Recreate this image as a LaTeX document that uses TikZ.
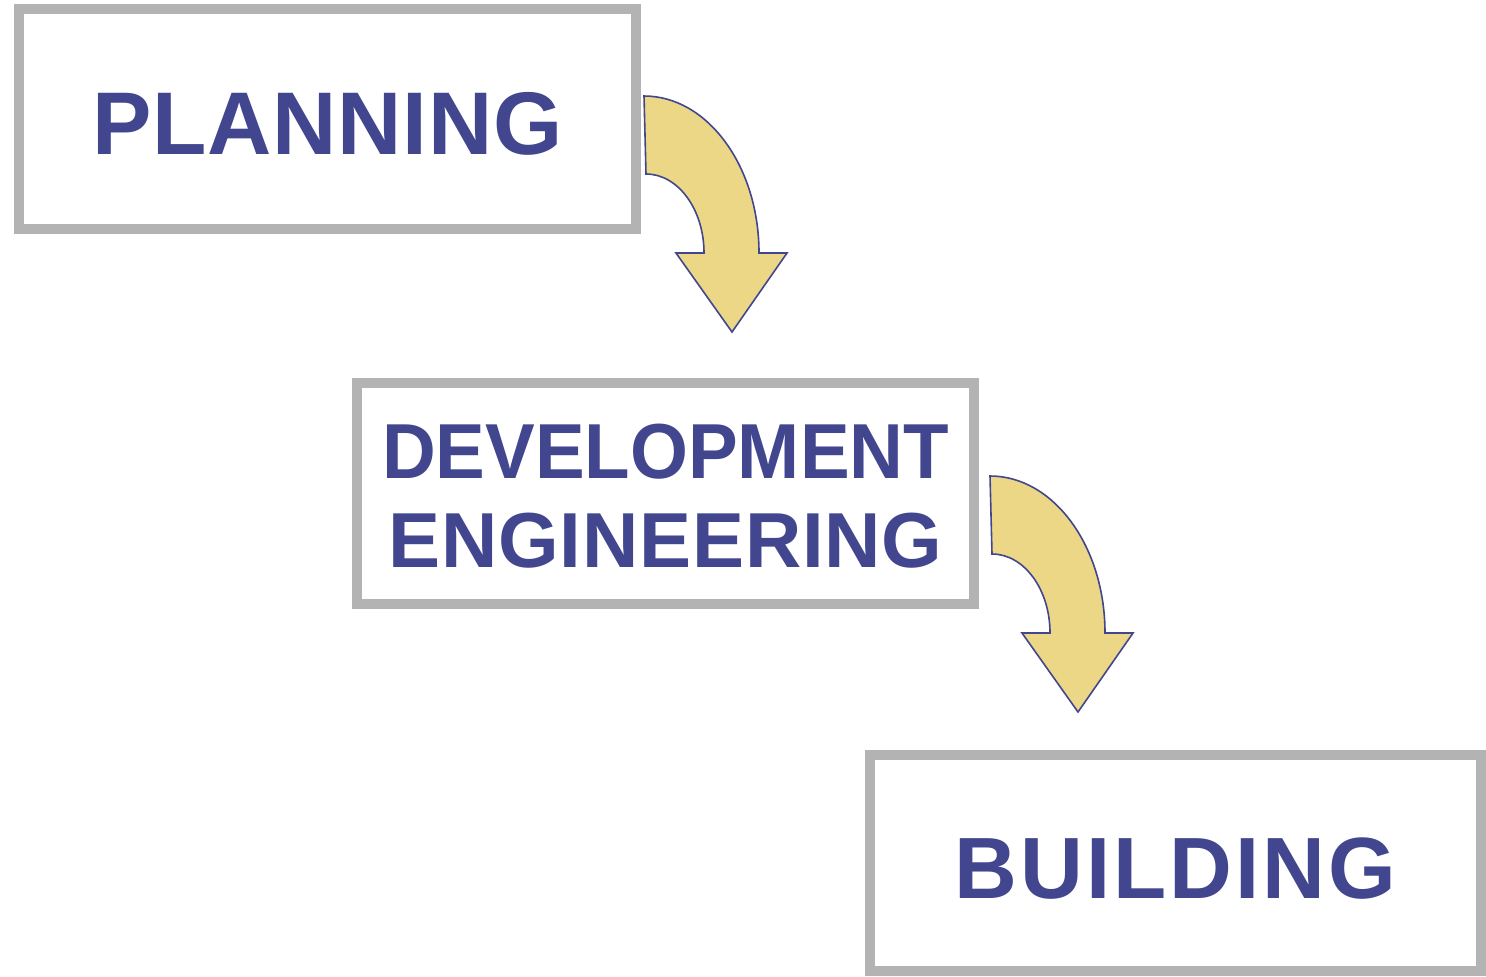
\documentclass[tikz,border=0pt]{standalone}
\usepackage{fontspec}
\setmainfont{Liberation Sans}
\definecolor{txtblue}{RGB}{65,70,142}
\definecolor{boxgray}{RGB}{179,179,179}
\definecolor{arrowfill}{RGB}{235,215,133}
\newcommand\stagetext[3]{\raisebox{-#1}[\height][\depth]{\addfontfeatures{LetterSpace=#2}#3}}
\tikzset{
  stagebox/.style={draw=boxgray, line width=5pt, fill=white, inner sep=0pt,
    text=txtblue, font=\bfseries, align=center},
  curvearrow/.pic={
    \path[fill=arrowfill, draw=txtblue, line width=0.8pt, line join=miter]
      (0,0) .. controls (63.5,0) and (115,70.3) .. (115,157)
      -- (143,157) -- (88,236) -- (32,157) -- (60,157)
      .. controls (60,113.4) and (34,78) .. (2,78) -- cycle;
  }
}
\begin{document}
\begin{tikzpicture}[x=0.5pt, y=-0.5pt]
\useasboundingbox (0,0) rectangle (1486,976);
\node[stagebox, minimum width=308.5pt, minimum height=110pt,
      font=\bfseries\fontsize{44.5}{50}\selectfont] (plan) at (327.5,119)
      {\stagetext{2.3pt}{1}{PLANNING}};
\node[stagebox, minimum width=308.5pt, minimum height=110.5pt,
      font=\bfseries\fontsize{39}{44.5}\selectfont] (dev) at (665.5,493.5)
      {\stagetext{1.5pt}{0}{\scalebox{0.955}[1]{DEVELOPMENT}}\\\stagetext{1.5pt}{1}{ENGINEERING}};
\node[stagebox, minimum width=305.5pt, minimum height=108pt,
      font=\bfseries\fontsize{43.5}{50}\selectfont] (build) at (1175.5,863)
      {\stagetext{2.8pt}{3.5}{BUILDING}};
\coordinate (a1) at (644,96);
\coordinate (a2) at (990,476);
\pic at (a1) {curvearrow};
\pic at (a2) {curvearrow};
\end{tikzpicture}
\end{document}
